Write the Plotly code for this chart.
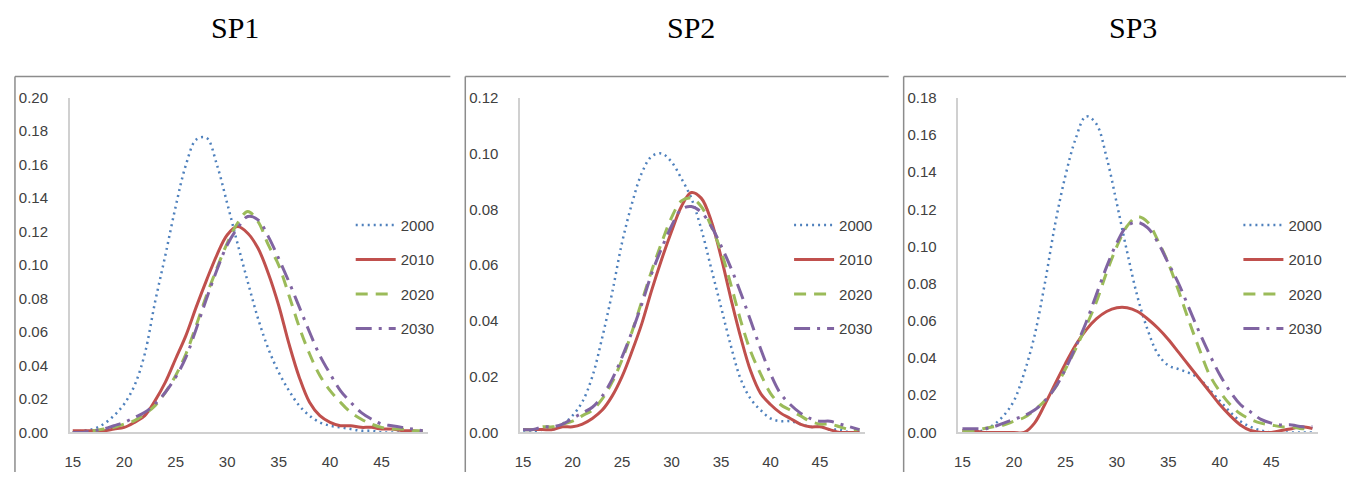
import plotly.graph_objects as go

# age of mother, 15 .. 49
ages = list(range(15, 50))

years = ['2000', '2010', '2020', '2030']
panel_titles = ['SP1', 'SP2', 'SP3']

# SP1
sp1_2000 = [0.000, 0.001, 0.002, 0.005, 0.010, 0.017, 0.028, 0.047, 0.078, 0.106,
            0.135, 0.160, 0.175, 0.176, 0.160, 0.137, 0.113, 0.090, 0.068, 0.050,
            0.036, 0.025, 0.016, 0.010, 0.006, 0.004, 0.003, 0.002, 0.001, 0.001,
            0.000, 0.000, 0.000, 0.000, 0.000]
sp1_2010 = [0.001, 0.001, 0.001, 0.001, 0.002, 0.003, 0.006, 0.010, 0.019, 0.030,
            0.044, 0.058, 0.075, 0.091, 0.106, 0.118, 0.123, 0.119, 0.110, 0.095,
            0.076, 0.053, 0.033, 0.018, 0.010, 0.006, 0.004, 0.004, 0.003, 0.003,
            0.002, 0.002, 0.001, 0.001, 0.000]
sp1_2020 = [0.000, 0.000, 0.001, 0.002, 0.003, 0.005, 0.007, 0.011, 0.016, 0.024,
            0.034, 0.047, 0.064, 0.082, 0.098, 0.113, 0.125, 0.132, 0.126, 0.112,
            0.100, 0.082, 0.063, 0.047, 0.034, 0.025, 0.018, 0.012, 0.008, 0.005,
            0.003, 0.002, 0.002, 0.001, 0.001]
sp1_2030 = [0.000, 0.000, 0.001, 0.002, 0.004, 0.006, 0.009, 0.012, 0.017, 0.024,
            0.033, 0.045, 0.062, 0.080, 0.097, 0.112, 0.122, 0.129, 0.127, 0.117,
            0.104, 0.090, 0.075, 0.060, 0.046, 0.035, 0.025, 0.018, 0.012, 0.008,
            0.005, 0.004, 0.003, 0.002, 0.001]

# SP2
sp2_2000 = [0.000, 0.000, 0.001, 0.001, 0.003, 0.006, 0.011, 0.020, 0.034, 0.050,
            0.068, 0.082, 0.093, 0.099, 0.100, 0.097, 0.091, 0.084, 0.073, 0.059,
            0.045, 0.031, 0.019, 0.012, 0.008, 0.005, 0.004, 0.004, 0.003, 0.002,
            0.002, 0.001, 0.001, 0.000, 0.000]
sp2_2010 = [0.001, 0.001, 0.001, 0.001, 0.002, 0.002, 0.003, 0.005, 0.008, 0.013,
            0.020, 0.029, 0.039, 0.051, 0.062, 0.072, 0.081, 0.086, 0.084, 0.076,
            0.063, 0.048, 0.034, 0.022, 0.014, 0.010, 0.007, 0.005, 0.003, 0.002,
            0.002, 0.001, 0.000, 0.000, 0.000]
sp2_2020 = [0.001, 0.001, 0.002, 0.002, 0.003, 0.004, 0.006, 0.008, 0.012, 0.018,
            0.026, 0.036, 0.047, 0.058, 0.068, 0.077, 0.083, 0.084, 0.081, 0.074,
            0.065, 0.053, 0.040, 0.029, 0.021, 0.014, 0.010, 0.008, 0.006, 0.004,
            0.003, 0.003, 0.002, 0.001, 0.001]
sp2_2030 = [0.001, 0.001, 0.002, 0.002, 0.003, 0.005, 0.007, 0.009, 0.013, 0.019,
            0.027, 0.036, 0.046, 0.057, 0.066, 0.074, 0.080, 0.081, 0.079, 0.074,
            0.067, 0.059, 0.050, 0.040, 0.030, 0.021, 0.014, 0.010, 0.007, 0.005,
            0.004, 0.004, 0.003, 0.002, 0.001]

# SP3
sp3_2000 = [0.000, 0.000, 0.001, 0.004, 0.009, 0.017, 0.032, 0.052, 0.080, 0.112,
            0.138, 0.158, 0.170, 0.166, 0.148, 0.123, 0.097, 0.073, 0.055, 0.042,
            0.036, 0.034, 0.032, 0.029, 0.023, 0.017, 0.011, 0.006, 0.003, 0.001,
            0.000, 0.000, 0.000, 0.000, 0.000]
sp3_2010 = [0.001, 0.001, 0.000, 0.000, 0.000, 0.000, 0.000, 0.005, 0.015, 0.026,
            0.037, 0.047, 0.055, 0.061, 0.065, 0.067, 0.067, 0.065, 0.061, 0.056,
            0.050, 0.043, 0.036, 0.029, 0.022, 0.015, 0.009, 0.004, 0.001, 0.000,
            0.000, 0.001, 0.002, 0.003, 0.002]
sp3_2020 = [0.001, 0.001, 0.002, 0.003, 0.004, 0.006, 0.008, 0.012, 0.017, 0.024,
            0.034, 0.045, 0.057, 0.070, 0.086, 0.100, 0.111, 0.116, 0.113, 0.103,
            0.091, 0.076, 0.060, 0.045, 0.031, 0.022, 0.015, 0.010, 0.007, 0.005,
            0.004, 0.003, 0.003, 0.002, 0.002]
sp3_2030 = [0.002, 0.002, 0.002, 0.003, 0.005, 0.007, 0.009, 0.012, 0.017, 0.024,
            0.034, 0.046, 0.059, 0.074, 0.089, 0.102, 0.111, 0.113, 0.110, 0.102,
            0.091, 0.080, 0.067, 0.054, 0.042, 0.031, 0.022, 0.015, 0.011, 0.007,
            0.005, 0.004, 0.004, 0.003, 0.003]

x_ticks = [15, 20, 25, 30, 35, 40, 45]
y_max = [0.20, 0.12, 0.18]

panels = [
    [sp1_2000, sp1_2010, sp1_2020, sp1_2030],
    [sp2_2000, sp2_2010, sp2_2020, sp2_2030],
    [sp3_2000, sp3_2010, sp3_2020, sp3_2030],
]

W, H = 1346, 478


def px_x(p):
    return p / W


def px_y(p):
    return 1 - p / H


colors = ['#4F81BD', '#C0504D', '#9BBB59', '#8064A2']
dashes = ['2px,4px', 'solid', '12px,8px', '16px,7px,3px,7px']
widths = [2.5, 3, 3, 3]

tick_font = dict(family='Liberation Sans, Arial, sans-serif', size=15, color='#404040')

# plot area (pixels) of each panel: x axis left/right, data range
plot_px = [(65, 425), (517, 863), (957, 1318)]
plot_top, plot_bottom = 92, 439
x_ranges = [[14.71, 49.55], [14.70, 49.53], [14.61, 49.55]]
legend_px = [347, 787, 1238]
title_px = [205, 689, 1158]
box_px = [(10, 447), (462, 887), (902, 1346)]
box_top = 70

fig = go.Figure()

for i, series in enumerate(panels):
    n = '' if i == 0 else str(i + 1)
    leg = 'legend' + n
    for j, vals in enumerate(series):
        fig.add_trace(go.Scatter(
            x=ages, y=vals, name=years[j], mode='lines',
            line=dict(color=colors[j], width=widths[j], dash=dashes[j],
                      shape='spline', smoothing=1),
            xaxis='x' + n, yaxis='y' + n, legend=leg,
            legendgroup=f'{i}_{j}',
        ))

    x0, x1 = plot_px[i]
    fig.update_layout({
        'xaxis' + n: dict(
            domain=[px_x(x0), px_x(x1)], range=x_ranges[i], anchor='y' + n,
            tickvals=x_ticks, showgrid=False, zeroline=False,
            showline=True, linecolor='#D0D0D0', linewidth=1.5,
            tickfont=tick_font, ticklabelstandoff=15,
        ),
        'yaxis' + n: dict(
            domain=[px_y(plot_bottom), px_y(plot_top)], range=[0, y_max[i]], anchor='x' + n,
            dtick=0.02, tickformat='.2f', showgrid=False, zeroline=False,
            showline=True, linecolor='#D0D0D0', linewidth=1.5,
            tickfont=tick_font, ticklabelstandoff=17,
        ),
        leg: dict(
            x=px_x(legend_px[i]), y=px_y(207), xanchor='left', yanchor='top',
            bgcolor='rgba(0,0,0,0)', font=tick_font,
            tracegroupgap=12, itemwidth=40,
        ),
    })

    fig.add_annotation(
        text=panel_titles[i], x=px_x(title_px[i]), y=px_y(19),
        xref='paper', yref='paper', showarrow=False, yanchor='middle',
        font=dict(family='Liberation Serif, Times New Roman, serif', size=30, color='black'),
    )

    bx0, bx1 = box_px[i]
    fig.add_shape(type='line', xref='paper', yref='paper',
                  x0=px_x(bx0), x1=px_x(bx1), y0=px_y(box_top), y1=px_y(box_top),
                  line=dict(color='#8C8C8C', width=1.5))
    fig.add_shape(type='line', xref='paper', yref='paper',
                  x0=px_x(bx0), x1=px_x(bx0), y0=px_y(box_top), y1=px_y(480),
                  line=dict(color='#8C8C8C', width=1.5))

fig.update_layout(
    width=W, height=H, autosize=False,
    margin=dict(l=0, r=0, t=0, b=0),
    paper_bgcolor='white', plot_bgcolor='white',
    showlegend=True,
)

# drop the default page margin so the figure sits at the window corner
fig.write_html('out.html', config={'displayModeBar': False},
               post_script="document.body.style.margin='0';document.body.style.overflow='hidden';")
